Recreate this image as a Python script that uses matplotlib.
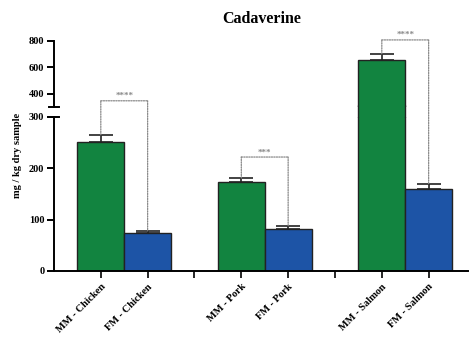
import numpy as np
import matplotlib.pyplot as plt
from matplotlib.patches import ConnectionPatch

plt.rcParams['font.family'] = ['Liberation Serif', 'DejaVu Serif']
plt.rcParams['font.weight'] = 'bold'

# data
labels = ['MM - Chicken', 'FM - Chicken', '', 'MM - Pork', 'FM - Pork', '',
          'MM - Salmon', 'FM - Salmon']
bar_pos = [1, 2, 4, 5, 7, 8]
means = [251, 74, 173, 82, 657, 160]
errs = [14, 4, 8, 6, 45, 10]
colors = ['#128440', '#1D54A6'] * 3
# brackets: (left pos, right pos, bracket height, star label)
brackets = [(1, 2, 347, '****'), (4, 5, 222, '***'), (7, 8, 808, '****')]

BREAK = 300

fig = plt.figure(figsize=(4.71, 3.41), dpi=100)
ax_lo = fig.add_axes([0.1146, 0.2053, 0.88, 0.4516])
ax_hi = fig.add_axes([0.1146, 0.6862, 0.88, 0.1936])
ax_hi.patch.set_alpha(0)

for ax in (ax_lo, ax_hi):
    ax.bar(bar_pos, means, width=1.0, color=colors, edgecolor='#222222',
           linewidth=1.0, zorder=2)
    ax.errorbar(bar_pos, means, yerr=[np.zeros(len(errs)), errs], fmt='none',
                ecolor='#222222', elinewidth=1.2, capsize=8.5, capthick=1.2,
                zorder=3)
    ax.set_xlim(0, 8.85)
    ax.spines['top'].set_visible(False)
    ax.spines['right'].set_visible(False)
    ax.spines['left'].set_linewidth(1.4)
    ax.spines['bottom'].set_linewidth(1.4)
    ax.tick_params(axis='y', direction='out', length=5, width=1.4,
                   labelsize=7.5, pad=2)

# tall bars run on through the gap between the two segments
for x, m, c in zip(bar_pos, means, colors):
    if m > BREAK:
        ax_lo.bar(x, 24, bottom=BREAK, width=1.0, color=c, linewidth=0,
                  zorder=2, clip_on=False)
        ax_lo.vlines([x - 0.5, x + 0.5], BREAK, BREAK + 24, color='#222222',
                     lw=1.0, zorder=2.5, clip_on=False)

ax_lo.set_ylim(0, BREAK)
ax_lo.set_yticks([0, 100, 200, 300])
ax_lo.set_xticks(range(1, 9))
ax_lo.set_xticklabels(labels, rotation=45, ha='right', rotation_mode='anchor',
                      fontsize=7.5)
ax_lo.tick_params(axis='x', direction='out', length=5, width=1.2, pad=3)

ax_hi.set_ylim(BREAK, 800)
ax_hi.set_yticks([400, 600, 800])
ax_hi.spines['bottom'].set_visible(False)
ax_hi.set_xticks([])

# break marks on the y axis
for ax, yv in ((ax_lo, 1.0), (ax_hi, 0.0)):
    ax.plot([-0.012, 0.012], [yv, yv], transform=ax.transAxes, color='black',
            lw=1.4, clip_on=False)


def ax_for(v):
    return ax_hi if v > BREAK else ax_lo


def seg(x1, y1, x2, y2):
    con = ConnectionPatch(xyA=(x1, y1), coordsA=ax_for(y1).transData,
                          xyB=(x2, y2), coordsB=ax_for(y2).transData,
                          linestyle=(0, (1, 1)), color='#888888', lw=0.9,
                          zorder=4)
    fig.add_artist(con)


for xa, xb, h, star in brackets:
    ya = means[bar_pos.index(xa)] + errs[bar_pos.index(xa)]
    yb = means[bar_pos.index(xb)] + errs[bar_pos.index(xb)]
    seg(xa, ya, xa, h)
    seg(xa, h, xb, h)
    seg(xb, h, xb, yb)
    ax_for(h).annotate(star, xy=((xa + xb) / 2, h), xytext=(0, 0.5),
                       textcoords='offset points', ha='center', va='bottom',
                       fontsize=6.5, color='#888888', annotation_clip=False)

fig.text(0.556, 0.945, 'Cadaverine', ha='center', va='center',
         fontsize=11.5, fontweight='bold')
fig.text(0.038, 0.545, 'mg / kg dry sample', rotation=90, ha='center',
         va='center', fontsize=7.5, fontweight='bold')

fig.savefig('out.png', dpi=100)
